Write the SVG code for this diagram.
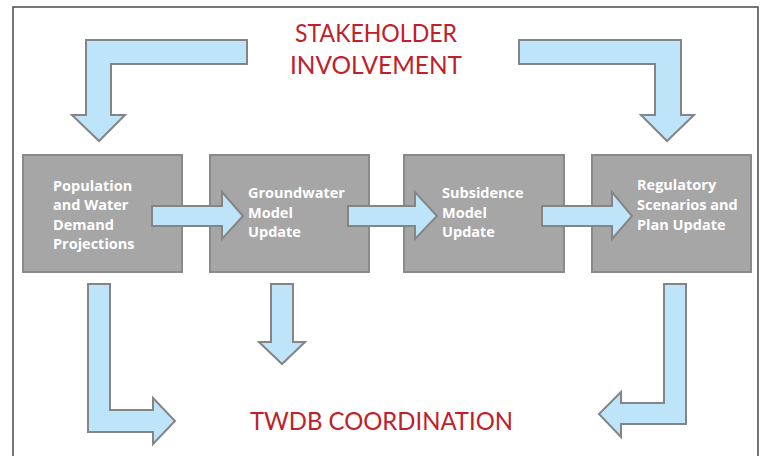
<svg xmlns="http://www.w3.org/2000/svg" width="760" height="456" viewBox="0 0 760 456">
<style>
.box{fill:#a6a6a6;stroke:#8a8a8a;stroke-width:2}
.arr{fill:#bde4f8;stroke:#858585;stroke-width:2;stroke-linejoin:miter}
.lbl{font-family:"Open Sans","Liberation Sans",sans-serif;font-weight:bold;font-size:14.5px;fill:#ffffff}
.title{font-family:Lato,"Liberation Sans",sans-serif;font-size:25.5px;fill:#c0202a}
</style>
<rect width="760" height="456" fill="#ffffff"/>
<path d="M13,460 L13,7 L758,7 L758,460" fill="none" stroke="#4a4a4a" stroke-width="1.5"/>
<g id="stakeholder">
<text class="title" x="295" y="42" textLength="162" lengthAdjust="spacingAndGlyphs">STAKEHOLDER</text>
<text class="title" x="290" y="73.5" textLength="172" lengthAdjust="spacingAndGlyphs">INVOLVEMENT</text>
</g>
<g id="twdb">
<text class="title" x="250" y="429.5" textLength="263" lengthAdjust="spacingAndGlyphs">TWDB COORDINATION</text>
</g>
<g id="node1">
<rect class="box" x="23" y="155" width="159" height="117"/>
<text class="lbl" x="53" y="190.5">Population</text>
<text class="lbl" x="53" y="210">and Water</text>
<text class="lbl" x="53" y="229.5">Demand</text>
<text class="lbl" x="53" y="249">Projections</text>
</g>
<g id="node2">
<rect class="box" x="210" y="155" width="159" height="117"/>
<text class="lbl" x="248" y="197.5">Groundwater</text>
<text class="lbl" x="248" y="217.5">Model</text>
<text class="lbl" x="248" y="237">Update</text>
</g>
<g id="node3">
<rect class="box" x="404" y="155" width="160" height="117"/>
<text class="lbl" x="442" y="197.5">Subsidence</text>
<text class="lbl" x="442" y="217.5">Model</text>
<text class="lbl" x="442" y="237">Update</text>
</g>
<g id="node4">
<rect class="box" x="592" y="155" width="159" height="117"/>
<text class="lbl" x="637" y="189.5">Regulatory</text>
<text class="lbl" x="637" y="209.5">Scenarios and</text>
<text class="lbl" x="637" y="229.5">Plan Update</text>
</g>
<g id="connectors">
<path class="arr" d="M247,40 L86,40 L86,115 L72,115 L99,141 L125,115 L111,115 L111,64 L247,64 Z"/>
<path class="arr" d="M519,40 L681,40 L681,115 L694,115 L667,141 L641,115 L655,115 L655,64 L519,64 Z"/>
<path class="arr" d="M152,206 L222,206 L222,192 L243,216 L222,239 L222,226 L152,226 Z"/>
<path class="arr" d="M348,206 L415,206 L415,192 L437,216 L415,239 L415,226 L348,226 Z"/>
<path class="arr" d="M542,206 L612,206 L612,192 L632,216 L612,239 L612,226 L542,226 Z"/>
<path class="arr" d="M88,284 L110,284 L110,410 L153,410 L153,398 L175,421 L153,444 L153,432 L88,432 Z"/>
<path class="arr" d="M271,284 L293,284 L293,342 L305,342 L282,364 L259,342 L271,342 Z"/>
<path class="arr" d="M664,284 L686,284 L686,424 L621,424 L621,437 L599,414 L621,392 L621,403 L664,403 Z"/>
</g>
</svg>
